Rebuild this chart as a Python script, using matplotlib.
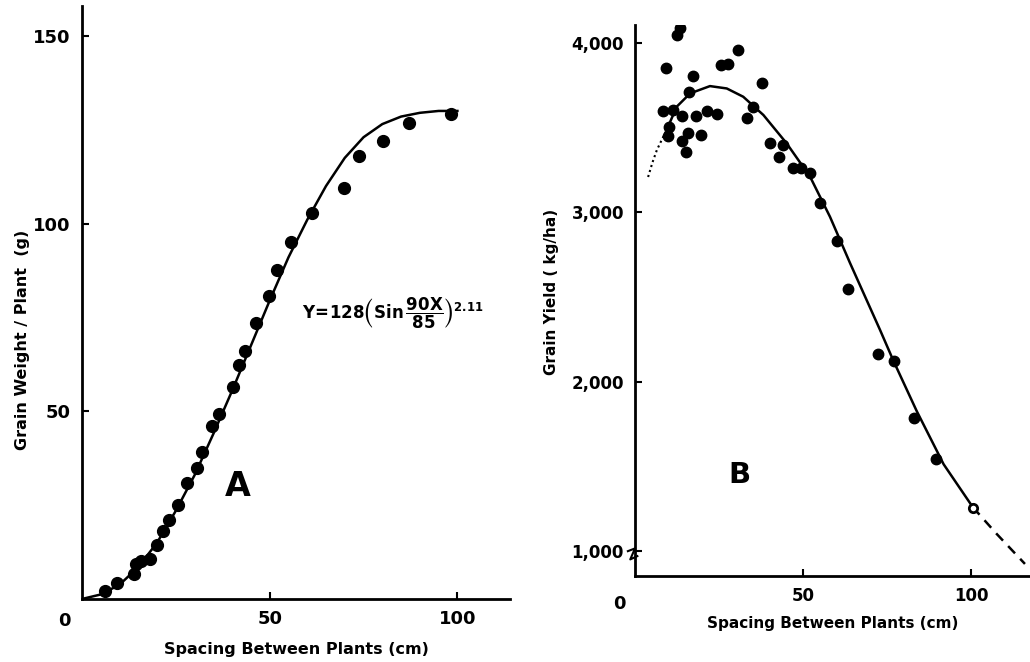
import matplotlib.pyplot as plt

plt.rcParams['font.family'] = 'DejaVu Sans'
plt.rcParams['font.weight'] = 'bold'
plt.rcParams['mathtext.fontset'] = 'dejavusans'

# Panel A: grain weight per plant vs spacing
a_x = [6.2, 9.4, 13.9, 14.5, 15.8, 18.2, 20.1, 21.7, 23.3, 25.5, 28.1, 30.6, 31.9,
       34.6, 36.5, 40.2, 41.8, 43.4, 46.4, 49.9, 52.0, 55.8, 61.4, 69.7, 73.7, 80.2,
       87.1, 98.4]
a_y = [2.1, 4.3, 6.7, 9.3, 10.1, 10.7, 14.4, 18.1, 21.1, 25.1, 30.9, 34.9, 39.2,
       46.1, 49.3, 56.5, 62.4, 66.1, 73.6, 80.8, 87.5, 95.2, 102.9, 109.6, 117.9,
       122.1, 126.7, 129.3]
a_curve_x = [0, 5, 10, 15, 20, 25, 30, 35, 40, 45, 50, 55, 60, 65, 70, 75, 80, 85, 90, 95, 100]
a_curve_y = [0, 1.2, 3.8, 8.5, 15, 23.5, 33, 44, 55.5, 67.5, 79.5, 91, 101, 110, 117.5,
             123, 126.5, 128.5, 129.5, 130, 130]

# Panel B: grain yield vs spacing
b_x = [13.4, 12.6, 9.1, 17.2, 30.6, 25.5, 27.8, 37.7, 16.1, 8.4, 11.4, 13.9, 18.2,
       21.3, 24.3, 35.2, 33.2, 10.2, 9.9, 15.9, 19.5, 13.9, 15.1, 40.2, 44.1, 42.7,
       46.9, 49.4, 52.1, 55.1, 60.0, 63.5, 72.2, 76.9, 83.1, 89.6]
b_y = [4087, 4047, 3850, 3805, 3959, 3870, 3876, 3766, 3712, 3600, 3604, 3571, 3571,
       3598, 3579, 3620, 3555, 3506, 3453, 3470, 3457, 3423, 3358, 3408, 3398, 3328,
       3260, 3260, 3234, 3057, 2832, 2545, 2161, 2122, 1787, 1541]
b_open_x = [100.5]
b_open_y = [1255]
b_dot_x = [3.9, 5.2, 6.5, 8.0, 9.4]
b_dot_y = [3209, 3295, 3368, 3430, 3486]
b_curve_x = [9.4, 12.4, 16.4, 22.3, 27.3, 32.2, 38.2, 45.1, 52.1, 58.0, 64.0, 72.9,
             76.9, 83.8, 91.8, 100.5]
b_curve_y = [3486, 3624, 3703, 3746, 3732, 3683, 3575, 3408, 3210, 2974, 2699, 2305,
             2122, 1826, 1512, 1258]
b_dash_x = [100.5, 107.6, 116]
b_dash_y = [1258, 1100, 923]

fig = plt.figure(figsize=(10.3, 6.62), dpi=100)

# ---- Panel A ----
ax1 = fig.add_axes([0.0796, 0.0952, 0.4155, 0.896])
ax1.plot(a_curve_x, a_curve_y, color='black', lw=1.8)
ax1.plot(a_x, a_y, 'o', color='black', ms=8.5)
ax1.set_xlim(0, 114)
ax1.set_ylim(0, 158)
ax1.set_xticks([50, 100])
ax1.set_yticks([50, 100, 150])
ax1.tick_params(direction='in', length=5, width=1.5, labelsize=13, pad=8)
for s in ['top', 'right']:
    ax1.spines[s].set_visible(False)
for s in ['left', 'bottom']:
    ax1.spines[s].set_linewidth(2)
ax1.set_xlabel('Spacing Between Plants (cm)', fontsize=11.5, fontweight='bold', labelpad=10)
ax1.set_ylabel('Grain Weight / Plant  (g)', fontsize=11.5, fontweight='bold')
ax1.yaxis.set_label_coords(-0.121, 0.437)
ax1.text(-0.04, -0.022, '0', transform=ax1.transAxes, fontsize=13, ha='center', va='top')
ax1.text(41.5, 30, 'A', fontsize=24, ha='center', va='center')
ax1.text(58.5, 76,
         r'$\mathbf{Y\!=\!128}\left(\mathbf{Sin}\,\dfrac{\mathbf{90X}}{\mathbf{85}}\right)^{\mathbf{2.11}}$',
         fontsize=12, ha='left', va='center')

# ---- Panel B ----
ax2 = fig.add_axes([0.6165, 0.13, 0.3835, 0.832])
ax2.plot(b_curve_x, b_curve_y, color='black', lw=1.8)
ax2.plot(b_dot_x, b_dot_y, color='black', lw=1.5, ls=(0, (1, 1.5)))
ax2.plot(b_dash_x, b_dash_y, color='black', lw=1.8, ls=(0, (4, 3)))
ax2.plot(b_x, b_y, 'o', color='black', ms=7.5)
ax2.plot(b_open_x, b_open_y, 'o', mfc='white', mec='black', mew=2, ms=6)
ax2.set_xlim(0, 117.5)
ax2.set_ylim(852, 4106)
ax2.set_xticks([50, 100])
ax2.set_yticks([1000, 2000, 3000, 4000])
ax2.set_yticklabels(['1,000', '2,000', '3,000', '4,000'])
ax2.tick_params(direction='in', length=5, width=1.5, labelsize=12, pad=8)
for s in ['top', 'right']:
    ax2.spines[s].set_visible(False)
for s in ['left', 'bottom']:
    ax2.spines[s].set_linewidth(2)
ax2.set_xlabel('Spacing Between Plants (cm)', fontsize=11, fontweight='bold', labelpad=8)
ax2.set_ylabel('Grain Yield ( kg/ha)', fontsize=11, fontweight='bold')
ax2.yaxis.set_label_coords(-0.192, 0.515)
ax2.text(-0.04, -0.035, '0', transform=ax2.transAxes, fontsize=13, ha='center', va='top')
ax2.text(31, 1450, 'B', fontsize=21, ha='center', va='center')
# axis break mark on y axis
ax2.plot([-0.018, 0.0, -0.012, 0.006], [0.045, 0.05, 0.03, 0.036],
         transform=ax2.transAxes, color='black', lw=1.5, clip_on=False)

fig.savefig('out.png', dpi=100)
